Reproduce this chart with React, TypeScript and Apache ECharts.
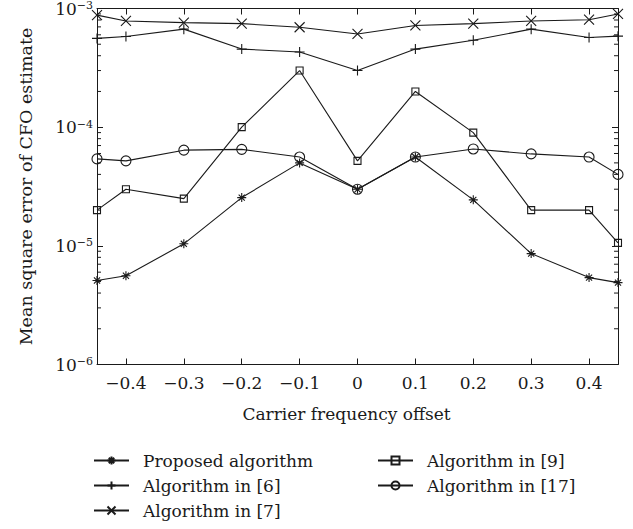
import React, { useEffect, useRef } from "react";
import * as echarts from "echarts";

// ---- data ----
const X_OFFSETS = [-0.45, -0.4, -0.3, -0.2, -0.1, 0, 0.1, 0.2, 0.3, 0.4, 0.45];
const PROPOSED = [5.1e-6, 5.6e-6, 1.04e-5, 2.55e-5, 5.0e-5, 3.0e-5, 5.6e-5, 2.44e-5, 8.6e-6, 5.4e-6, 4.9e-6];
const ALG6 = [5.6e-4, 5.8e-4, 6.7e-4, 4.55e-4, 4.3e-4, 3.0e-4, 4.55e-4, 5.4e-4, 6.7e-4, 5.7e-4, 5.85e-4];
const ALG7 = [8.8e-4, 7.85e-4, 7.6e-4, 7.45e-4, 6.95e-4, 6.1e-4, 7.2e-4, 7.45e-4, 7.85e-4, 8.05e-4, 9.0e-4];
const ALG9 = [2.0e-5, 3.0e-5, 2.5e-5, 1.0e-4, 3.0e-4, 5.2e-5, 2.0e-4, 9.0e-5, 2.0e-5, 2.0e-5, 1.06e-5];
const ALG17 = [5.4e-5, 5.2e-5, 6.4e-5, 6.5e-5, 5.6e-5, 3.0e-5, 5.6e-5, 6.55e-5, 5.95e-5, 5.6e-5, 4.0e-5];

const SERIES_NAMES = [
  "Proposed algorithm",
  "Algorithm in [6]",
  "Algorithm in [7]",
  "Algorithm in [9]",
  "Algorithm in [17]",
];

const X_MIN = -0.45;
const X_MAX = 0.45;
const X_TICKS = [-0.4, -0.3, -0.2, -0.1, 0, 0.1, 0.2, 0.3, 0.4];
const Y_MIN = 1e-6;
const Y_MAX = 1e-3;
const MINOR_MULTIPLIERS = [2, 3, 4, 5, 6, 7, 8, 9];
const MINOR_DECADES = [1e-6, 1e-5, 1e-4];

const X_TITLE = "Carrier frequency offset";
const Y_TITLE = "Mean square error of CFO estimate";

const FONT = "DejaVu Serif";
const INK = "#1a1a1a";

const SYM_STAR = "path://M5 0 V10 M0 5 H10 M1.6 1.6 L8.4 8.4 M8.4 1.6 L1.6 8.4";
const SYM_PLUS = "path://M5 0 V10 M0 5 H10";
const SYM_CROSS = "path://M0 0 L10 10 M10 0 L0 10";
const SYM_SQUARE = "path://M0 0 H10 V10 H0 Z";
const SYM_CIRCLE = "path://M10 5 A5 5 0 1 1 0 5 A5 5 0 1 1 10 5 Z";

export default function App() {
  const ref = useRef<HTMLDivElement>(null);

  useEffect(() => {
    document.body.style.margin = "0";
    if (!ref.current) return;
    const chart = echarts.init(ref.current, null, { renderer: "svg" });

    const mk = (name: string, vals: number[], symbol: string, size: number) => ({
      name,
      type: "line",
      xAxisIndex: 0,
      yAxisIndex: 0,
      data: X_OFFSETS.map((x, i) => [x, vals[i]]),
      symbol,
      symbolSize: size,
      showSymbol: true,
      lineStyle: { color: INK, width: 1.1 },
      itemStyle: { color: "none", borderColor: INK, borderWidth: 1.1 },
      emphasis: { disabled: true },
      z: 3,
    });

    const minorData: number[][] = [];
    MINOR_DECADES.forEach((d) => MINOR_MULTIPLIERS.forEach((m) => minorData.push([X_MIN, m * d])));

    const tickText = { fontFamily: FONT, fontSize: 17, color: INK };

    const legendBase = {
      top: 452,
      orient: "vertical",
      padding: 0,
      itemWidth: 35,
      itemHeight: 10,
      itemGap: 8,
      selectedMode: false,
      textStyle: { fontFamily: FONT, fontSize: 17, color: INK, lineHeight: 17, padding: [0, 0, 0, 9] },
    };

    const option: any = {
      animation: false,
      backgroundColor: "#fff",
      grid: {
        left: 97,
        right: 15,
        top: 8.5,
        bottom: 164.5,
        containLabel: false,
        outerBoundsMode: "none",
      },
      xAxis: [
        {
          type: "value",
          min: X_MIN,
          max: X_MAX,
          position: "bottom",
          name: X_TITLE,
          nameLocation: "middle",
          nameGap: 41,
          nameTextStyle: { ...tickText, padding: [0, 22, 0, 0] },
          axisLine: { show: true, onZero: false, lineStyle: { color: INK, width: 1 } },
          axisTick: { show: true, inside: true, length: 6, customValues: X_TICKS, lineStyle: { color: INK } },
          axisLabel: {
            show: true,
            margin: 10,
            customValues: X_TICKS,
            ...tickText,
            formatter: (v: number) =>
              Math.abs(v) < 1e-9 ? "0" : (v < 0 ? "\u2212" : "") + Math.abs(v).toFixed(1),
          },
          splitLine: { show: false },
        },
        {
          type: "value",
          min: X_MIN,
          max: X_MAX,
          position: "top",
          axisLine: { show: true, onZero: false, lineStyle: { color: INK, width: 1 } },
          axisTick: { show: true, inside: true, length: 6, customValues: X_TICKS, lineStyle: { color: INK } },
          axisLabel: { show: false },
          splitLine: { show: false },
        },
      ],
      yAxis: [
        {
          type: "log",
          logBase: 10,
          min: Y_MIN,
          max: Y_MAX,
          interval: 1,
          position: "left",
          name: Y_TITLE,
          nameLocation: "middle",
          nameGap: 62,
          nameTextStyle: { ...tickText, fontSize: 17.5 },
          axisLine: { show: true, onZero: false, lineStyle: { color: INK, width: 1 } },
          axisTick: { show: true, inside: true, length: 6, lineStyle: { color: INK } },
          axisLabel: {
            show: true,
            margin: 4,
            formatter: (v: number) => {
              const e = Math.round(Math.log10(v));
              return "{b|10}{s|" + (e < 0 ? "\u2212" : "") + Math.abs(e) + "}";
            },
            rich: {
              b: { fontFamily: FONT, fontSize: 17, color: INK, lineHeight: 17, verticalAlign: "bottom" },
              s: { fontFamily: FONT, fontSize: 11, color: INK, lineHeight: 11, verticalAlign: "top" },
            },
          },
          splitLine: { show: false },
        },
        {
          type: "log",
          logBase: 10,
          min: Y_MIN,
          max: Y_MAX,
          interval: 1,
          position: "right",
          axisLine: { show: true, onZero: false, lineStyle: { color: INK, width: 1 } },
          axisTick: { show: true, inside: true, length: 6, lineStyle: { color: INK } },
          axisLabel: { show: false },
          splitLine: { show: false },
        },
      ],
      legend: [
        { ...legendBase, left: 93, data: SERIES_NAMES.slice(0, 3) },
        { ...legendBase, left: 377, data: SERIES_NAMES.slice(3) },
      ],
      series: [
        mk(SERIES_NAMES[0], PROPOSED, SYM_STAR, 9),
        mk(SERIES_NAMES[1], ALG6, SYM_PLUS, 10),
        mk(SERIES_NAMES[2], ALG7, SYM_CROSS, 10),
        mk(SERIES_NAMES[3], ALG9, SYM_SQUARE, 7),
        mk(SERIES_NAMES[4], ALG17, SYM_CIRCLE, 10),
        {
          name: "minor-ticks",
          type: "custom",
          xAxisIndex: 0,
          yAxisIndex: 0,
          silent: true,
          clip: false,
          data: minorData,
          encode: { x: 0, y: 1 },
          renderItem: (_params: any, api: any) => {
            const v = api.value(1);
            const pL = api.coord([X_MIN, v]);
            const pR = api.coord([X_MAX, v]);
            return {
              type: "group",
              children: [
                {
                  type: "line",
                  shape: { x1: pL[0], y1: pL[1], x2: pL[0] + 4, y2: pL[1] },
                  style: { stroke: INK, lineWidth: 1 },
                },
                {
                  type: "line",
                  shape: { x1: pR[0] - 4, y1: pR[1], x2: pR[0], y2: pR[1] },
                  style: { stroke: INK, lineWidth: 1 },
                },
              ],
            };
          },
        },
      ],
    };

    chart.setOption(option);
    return () => chart.dispose();
  }, []);

  return <div ref={ref} style={{ width: 633, height: 529 }} />;
}
